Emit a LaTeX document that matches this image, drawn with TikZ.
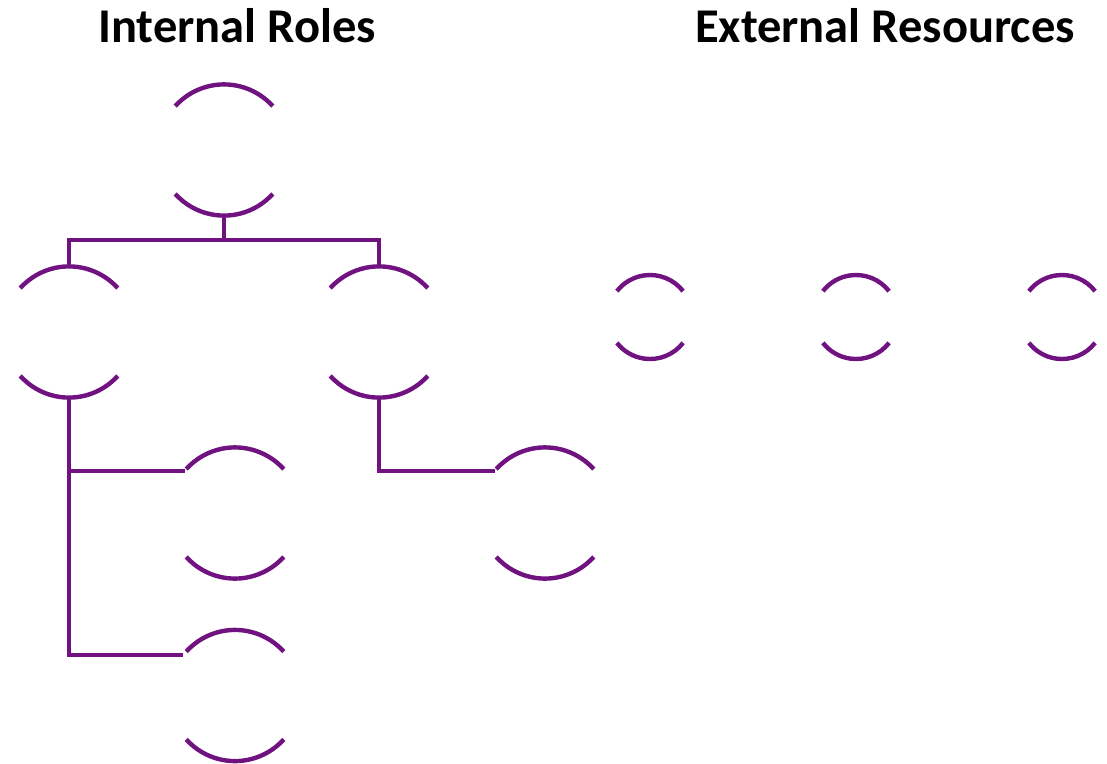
\documentclass[tikz,border=0pt]{standalone}
\usepackage{fontspec}
\setmainfont{Carlito}
\definecolor{rp}{RGB}{112,18,128}
\newcommand\bigarcs[1]{%
  \draw[arcline] (#1.42) arc[start angle=42,end angle=138,radius=65.6];
  \draw[arcline] (#1.-42) arc[start angle=-42,end angle=-138,radius=65.6];}
\newcommand\smallarcs[1]{%
  \draw[arcline] (#1.38) arc[start angle=38,end angle=142,radius=42];
  \draw[arcline] (#1.-38) arc[start angle=-38,end angle=-142,radius=42];}
\begin{document}
\begin{tikzpicture}[x=1pt,y=1pt,
  big/.style={circle,minimum size=131.2pt,inner sep=0pt,outer sep=0pt},
  small/.style={circle,minimum size=84pt,inner sep=0pt,outer sep=0pt},
  arcline/.style={draw=rp,line width=4.4pt},
  link/.style={draw=rp,line width=4pt},
  title/.style={font=\fontsize{48.5}{54}\selectfont\bfseries,text=black,inner sep=0pt}]
\useasboundingbox (0,0) rectangle (1107,-763);
\node[title] (t1) at (237,-26) {Internal Roles};
\node[title] (t2) at (885,-26) {External Resources};
\node[big] (top) at (224,-150) {};
\node[big] (l) at (69,-332) {};
\node[big] (r) at (379,-332) {};
\node[big] (c1) at (235,-513) {};
\node[big] (c2) at (235,-695.5) {};
\node[big] (c3) at (545,-513) {};
\node[small] (e1) at (650,-317) {};
\node[small] (e2) at (856,-317) {};
\node[small] (e3) at (1062,-317) {};
\bigarcs{top}\bigarcs{l}\bigarcs{r}\bigarcs{c1}\bigarcs{c2}\bigarcs{c3}
\smallarcs{e1}\smallarcs{e2}\smallarcs{e3}
\coordinate (bar) at (0,-240);
\draw[link] (top.south) -- (top.south |- bar);
\draw[link] (l.north) -- (l.north |- bar) -- (r.north |- bar) -- (r.north);
\draw[link] (l.south) -- (l.south |- c2.142) -- (c2.142);
\draw[link] (l.south |- c1.140) -- (c1.140);
\draw[link] (r.south) -- (r.south |- c3.140) -- (c3.140);
\end{tikzpicture}
\end{document}
